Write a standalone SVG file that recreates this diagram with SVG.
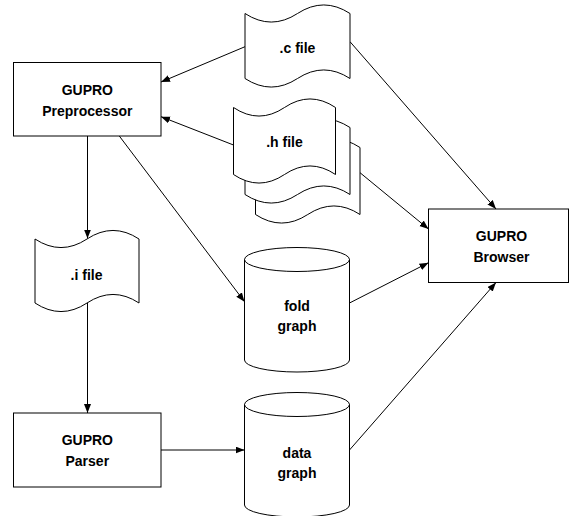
<svg xmlns="http://www.w3.org/2000/svg" width="571" height="516" viewBox="0 0 571 516">
<style>
.shape{fill:#ffffff;stroke:#000000;stroke-width:1}
.edge{fill:none;stroke:#000000;stroke-width:1}
.lbl{font-family:"Liberation Sans",Arial,Helvetica,sans-serif;font-size:14px;font-weight:bold;fill:#000000;text-anchor:middle}
</style>
<defs>
<marker id="arrow" markerUnits="userSpaceOnUse" markerWidth="10" markerHeight="8" refX="9" refY="3.5" orient="auto">
<path d="M0,0 L9,3.5 L0,7 Z" fill="#000000"/>
</marker>
</defs>
<rect width="571" height="516" fill="#ffffff"/>
<g id="connectors">
<line class="edge" x1="245" y1="46.7" x2="161" y2="82" marker-end="url(#arrow)"/>
<line class="edge" x1="233.5" y1="145" x2="161" y2="116.7" marker-end="url(#arrow)"/>
<line class="edge" x1="87.5" y1="136" x2="87.5" y2="238.5" marker-end="url(#arrow)"/>
<line class="edge" x1="119.3" y1="136" x2="244.5" y2="301.7" marker-end="url(#arrow)"/>
<line class="edge" x1="87.5" y1="303" x2="87.5" y2="413" marker-end="url(#arrow)"/>
<line class="edge" x1="161" y1="450" x2="244.5" y2="450" marker-end="url(#arrow)"/>
<line class="edge" x1="350" y1="41.7" x2="496" y2="209" marker-end="url(#arrow)"/>
<line class="edge" x1="360" y1="172.7" x2="428.5" y2="229" marker-end="url(#arrow)"/>
<line class="edge" x1="349.5" y1="303" x2="428.5" y2="262.7" marker-end="url(#arrow)"/>
<line class="edge" x1="349.5" y1="450" x2="496" y2="282.5" marker-end="url(#arrow)"/>
</g>
<g id="preprocessor">
<rect class="shape" x="13.5" y="62.5" width="147.5" height="73.5"/>
<text class="lbl" x="87.3" y="94.5">GUPRO</text>
<text class="lbl" x="87.3" y="115.5">Preprocessor</text>
</g>
<g id="cfile">
<path class="shape" d="M245,13.5 Q271.25,30.6 297.5,13.5 Q323.75,-3.6 350,13.5 L350,78.5 Q323.75,61.4 297.5,78.5 Q271.25,95.6 245,78.5 Z"/>
<text class="lbl" x="297.5" y="53">.c file</text>
</g>
<g id="hfile">
<path class="shape" d="M255.5,147.5 Q281.6,164.6 307.75,147.5 Q333.9,130.4 360,147.5 L360,214.5 Q333.9,197.4 307.75,214.5 Q281.6,231.6 255.5,214.5 Z"/>
<path class="shape" d="M245,127.5 Q271.25,144.6 297.5,127.5 Q323.75,110.4 350,127.5 L350,194.5 Q323.75,177.4 297.5,194.5 Q271.25,211.6 245,194.5 Z"/>
<path class="shape" d="M233.5,107.5 Q259,124.6 284.5,107.5 Q310,90.4 335.5,107.5 L335.5,174.5 Q310,157.4 284.5,174.5 Q259,191.6 233.5,174.5 Z"/>
<text class="lbl" x="284.5" y="146.7">.h file</text>
</g>
<g id="ifile">
<path class="shape" d="M35,239 Q61,256.1 87,239 Q113,221.9 139,239 L139,303 Q113,285.9 87,303 Q61,320.1 35,303 Z"/>
<text class="lbl" x="86.5" y="280">.i file</text>
</g>
<g id="foldgraph">
<path class="shape" d="M244.5,259.5 A52.5,12 0 0 1 349.5,259.5 L349.5,360 A52.5,12 0 0 1 244.5,360 Z"/>
<path class="edge" d="M244.5,259.5 A52.5,12 0 0 0 349.5,259.5"/>
<text class="lbl" x="297" y="310.5">fold</text>
<text class="lbl" x="297" y="331">graph</text>
</g>
<g id="datagraph">
<path class="shape" d="M244.5,404.5 A52.5,12 0 0 1 349.5,404.5 L349.5,505 A52.5,12 0 0 1 244.5,505 Z"/>
<path class="edge" d="M244.5,404.5 A52.5,12 0 0 0 349.5,404.5"/>
<text class="lbl" x="297" y="457.5">data</text>
<text class="lbl" x="297" y="478">graph</text>
</g>
<g id="parser">
<rect class="shape" x="13.5" y="413" width="147.5" height="74"/>
<text class="lbl" x="87.3" y="445">GUPRO</text>
<text class="lbl" x="87.3" y="466">Parser</text>
</g>
<g id="browser">
<rect class="shape" x="428.5" y="209" width="140" height="73.5"/>
<text class="lbl" x="501.5" y="241">GUPRO</text>
<text class="lbl" x="501.5" y="262">Browser</text>
</g>
</svg>
